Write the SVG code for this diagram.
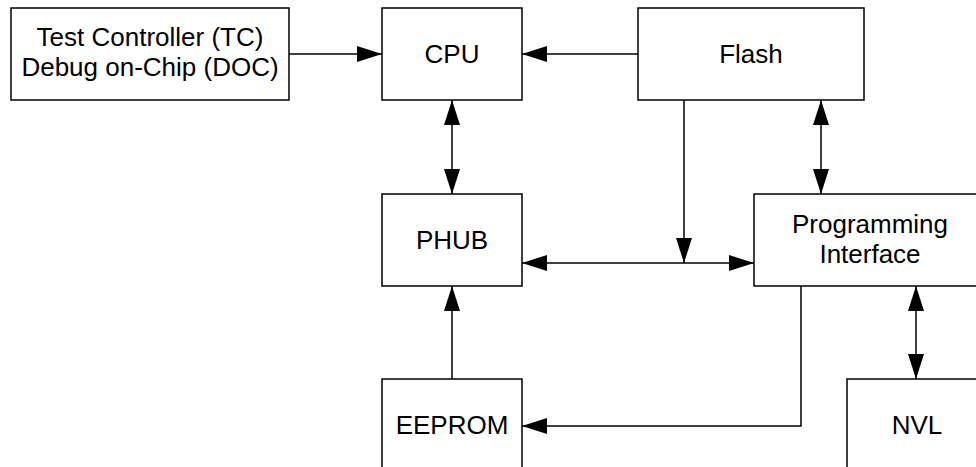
<svg xmlns="http://www.w3.org/2000/svg" width="976" height="467" viewBox="0 0 976 467">
<style>
.box{fill:#fff;stroke:#000;stroke-width:1.5}
.lbl{font-family:"Liberation Sans",Arial,sans-serif;font-size:26px;fill:#000;text-anchor:middle}
.c{fill:none;stroke:#000;stroke-width:1.5}
</style>
<defs>
<marker id="ah" markerUnits="userSpaceOnUse" markerWidth="25" markerHeight="16" refX="25" refY="8" orient="auto-start-reverse">
<path d="M0,0 L25,8 L0,16 z" fill="#000"/>
</marker>
</defs>
<rect width="976" height="467" fill="#fff"/>
<g id="tc"><rect class="box" x="11" y="8" width="278" height="92"/><text class="lbl" x="150" y="46">Test Controller (TC)</text><text class="lbl" x="150" y="76">Debug on-Chip (DOC)</text></g>
<g id="cpu"><rect class="box" x="382" y="8" width="140" height="92"/><text class="lbl" x="452" y="63">CPU</text></g>
<g id="flash"><rect class="box" x="638" y="8" width="226" height="92"/><text class="lbl" x="751" y="63">Flash</text></g>
<g id="phub"><rect class="box" x="382" y="194" width="140" height="92"/><text class="lbl" x="452" y="249">PHUB</text></g>
<g id="pi"><rect class="box" x="754" y="194" width="232" height="92"/><text class="lbl" x="870" y="233">Programming</text><text class="lbl" x="870" y="263">Interface</text></g>
<g id="eeprom"><rect class="box" x="382" y="379" width="140" height="92"/><text class="lbl" x="452" y="434">EEPROM</text></g>
<g id="nvl"><rect class="box" x="847" y="379" width="140" height="92"/><text class="lbl" x="917" y="434">NVL</text></g>
<g id="connectors">
<path class="c" d="M289,54 H382" marker-end="url(#ah)"/>
<path class="c" d="M638,54 H522" marker-end="url(#ah)"/>
<path class="c" d="M452,100 V194" marker-start="url(#ah)" marker-end="url(#ah)"/>
<path class="c" d="M821,100 V194" marker-start="url(#ah)" marker-end="url(#ah)"/>
<path class="c" d="M522,263 H754" marker-start="url(#ah)" marker-end="url(#ah)"/>
<path class="c" d="M684,100 V263" marker-end="url(#ah)"/>
<path class="c" d="M452,379 V286" marker-end="url(#ah)"/>
<path class="c" d="M801,286 V426 H522" marker-end="url(#ah)"/>
<path class="c" d="M916,286 V379" marker-start="url(#ah)" marker-end="url(#ah)"/>
</g>
</svg>
